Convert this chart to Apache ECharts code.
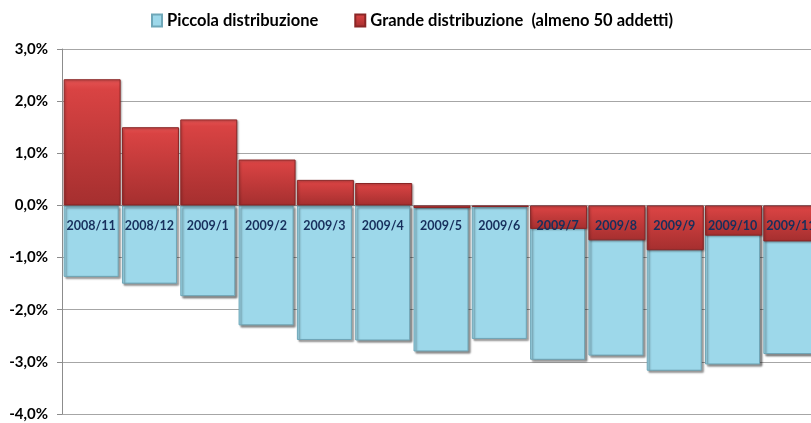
<!DOCTYPE html>
<html>
<head>
<meta charset="utf-8">
<script src="https://cdn.jsdelivr.net/npm/echarts@6/dist/echarts.min.js"></script>
<style>
  html, body { margin: 0; padding: 0; background: #fff; }
  #chart { width: 811px; height: 423px; }
</style>
</head>
<body>
<div id="chart"></div>
<script>
const categories = ["2008/11", "2008/12", "2009/1", "2009/2", "2009/3", "2009/4", "2009/5",
  "2009/6", "2009/7", "2009/8", "2009/9", "2009/10", "2009/11"];
const piccola = [-1.37, -1.50, -1.74, -2.30, -2.58, -2.59, -2.80, -2.56, -2.96, -2.88, -3.17, -3.05, -2.85];
const grande = [2.42, 1.50, 1.65, 0.88, 0.49, 0.43, -0.05, -0.03, -0.45, -0.67, -0.86, -0.58, -0.69];
const yTicks = { min: -4, max: 3, interval: 1 };

const font = "Lato, 'Open Sans', sans-serif";
const chart = echarts.init(document.getElementById("chart"));

chart.setOption({
  animation: false,
  legend: {
    left: 146,
    top: 7,
    itemWidth: 10,
    itemHeight: 12,
    itemGap: 36,
    icon: "rect",
    textStyle: { fontFamily: font, fontWeight: "bold", fontSize: 16.5, color: "#000" },
    data: ["Piccola distribuzione", "Grande distribuzione  (almeno 50 addetti)"]
  },
  grid: { left: 62, right: -9, top: 49, bottom: 9, outerBoundsMode: "none" },
  xAxis: {
    type: "category",
    data: categories,
    axisLine: { show: false },
    axisTick: { show: false },
    axisLabel: { show: false }
  },
  yAxis: {
    type: "value",
    min: yTicks.min,
    max: yTicks.max,
    interval: yTicks.interval,
    axisLine: { show: true, lineStyle: { color: "#8c8c8c" } },
    axisTick: { show: true, length: 5, lineStyle: { color: "#8c8c8c" } },
    splitLine: { lineStyle: { color: "#a6a6a6" } },
    axisLabel: {
      margin: 14,
      color: "#000",
      fontFamily: font,
      fontWeight: "bold",
      fontSize: 15,
      formatter: v => v.toFixed(1).replace(".", ",") + "%"
    }
  },
  series: [
    {
      name: "Piccola distribuzione",
      type: "bar",
      data: piccola,
      barWidth: 55,
      barGap: "-100%",
      itemStyle: {
        color: "#9DD8EA",
        borderColor: "#6fa7b8",
        borderWidth: 1,
        shadowColor: "rgba(0,0,0,0.45)",
        shadowBlur: 2,
        shadowOffsetX: 2,
        shadowOffsetY: 2
      }
    },
    {
      name: "Grande distribuzione  (almeno 50 addetti)",
      type: "bar",
      data: grande,
      barWidth: 57,
      itemStyle: {
        color: new echarts.graphic.LinearGradient(0, 0, 0, 1, [
          { offset: 0, color: "#E55454" },
          { offset: 0.08, color: "#D94343" },
          { offset: 1, color: "#A52F2F" }
        ]),
        borderColor: "#8a2626",
        borderWidth: 1,
        shadowColor: "rgba(0,0,0,0.3)",
        shadowBlur: 2,
        shadowOffsetX: 1,
        shadowOffsetY: 1
      }
    },
    {
      // category labels just under the zero line
      name: "labels",
      type: "bar",
      data: piccola,
      barWidth: 55,
      z: 5,
      silent: true,
      itemStyle: { color: "rgba(0,0,0,0)" },
      label: {
        show: true,
        position: "insideTop",
        distance: 14,
        formatter: "{b}",
        color: "#172F5C",
        fontFamily: font,
        fontWeight: "bold",
        fontSize: 12.5
      }
    }
  ]
});
</script>
</body>
</html>
